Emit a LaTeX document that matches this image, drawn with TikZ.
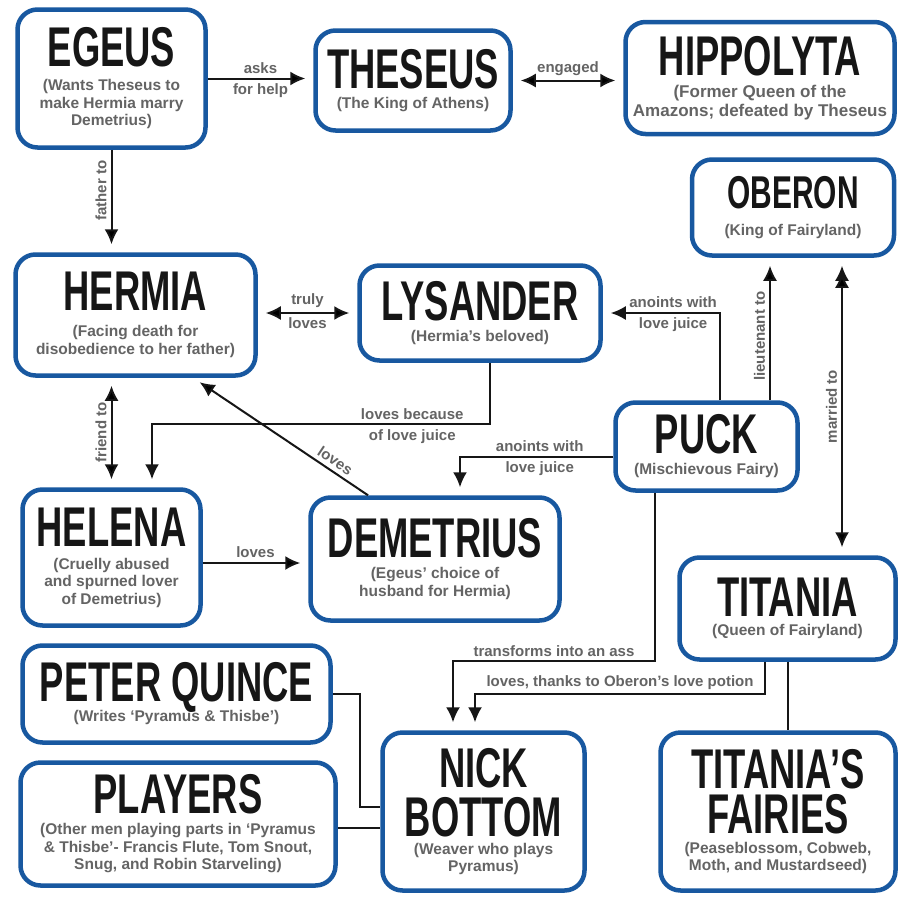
\documentclass[tikz,border=0pt]{standalone}
\usepackage{fontspec}
\setmainfont{Liberation Sans}
\newfontfamily\namefont[FakeStretch=0.65]{Liberation Sans}
\usetikzlibrary{arrows.meta}

\definecolor{boxblue}{RGB}{24,88,160}
\definecolor{subgray}{RGB}{100,100,100}
\definecolor{ink}{RGB}{22,22,22}

% big condensed name on top of each box
\newcommand\who[2][56]{{\namefont\bfseries\fontsize{#1}{#1}\selectfont\color{ink}#2}}
\newcommand\subfont{\bfseries\fontsize{15.5}{17.5}\selectfont\lineskiplimit=-100pt\relax}
\newcommand\bigsubfont{\bfseries\fontsize{17}{18.5}\selectfont\lineskiplimit=-100pt\relax}

\tikzset{
  person/.style={draw=boxblue, line width=4.5pt, rounded corners=20pt, fill=white,
    align=center, inner sep=0pt, text=subgray, font=\subfont},
  rel/.style={->, draw=ink, line width=2pt, shorten >=8pt},
  link/.style={draw=ink, line width=2pt},
  lbl/.style={font=\bfseries\fontsize{15}{17}\selectfont, text=subgray, inner sep=4pt},
}

\begin{document}
\begin{tikzpicture}[x=1pt, y=-1pt, >={Latex[length=15pt,width=14pt]}]
\useasboundingbox (0,0) rectangle (899,900);
\fill[white] (0,0) rectangle (899,900);

\node[person, minimum width=188pt, minimum height=138pt] (egeus) at (111.5,78.5)
  {\who{EGEUS}\\[6.5pt](Wants Theseus to\\make Hermia marry\\Demetrius)};
\node[person, minimum width=195pt, minimum height=100pt] (theseus) at (413,80.5)
  {\who{THESEUS}\\[2.5pt](The King of Athens)};
\node[person, font=\bigsubfont, minimum width=269pt, minimum height=112pt] (hippolyta) at (760,78)
  {\who{HIPPOLYTA}\\[4pt](Former Queen of the\\Amazons; defeated by Theseus};
\node[person, minimum width=202pt, minimum height=96pt] (oberon) at (793,207.5)
  {\who[46]{OBERON}\\[9.5pt](King of Fairyland)};
\node[person, minimum width=240pt, minimum height=121pt] (hermia) at (135.5,315)
  {\who{HERMIA}\\[8.5pt](Facing death for\\disobedience to her father)};
\node[person, minimum width=241pt, minimum height=95pt] (lysander) at (480,313)
  {\who{LYSANDER}\\[3.5pt](Hermia’s beloved)};
\node[person, minimum width=182pt, minimum height=88pt] (puck) at (706.5,446.5)
  {\who{PUCK}\\[3.5pt](Mischievous Fairy)};
\node[person, minimum width=178pt, minimum height=136pt] (helena) at (111.5,557.5)
  {\who{HELENA}\\[5.5pt](Cruelly abused\\and spurned lover\\of Demetrius)};
\node[person, minimum width=249pt, minimum height=123pt] (demetrius) at (435,559)
  {\who{DEMETRIUS}\\[3.5pt](Egeus’ choice of\\husband for Hermia)};
\node[person, minimum width=216pt, minimum height=102pt] (titania) at (787.5,608.5)
  {\who{TITANIA}\\[1.5pt](Queen of Fairyland)};
\node[person, minimum width=308pt, minimum height=97pt] (quince) at (176.5,694)
  {\who{PETER QUINCE}\\[2.5pt](Writes ‘Pyramus \& Thisbe’)};
\node[person, minimum width=315pt, minimum height=123pt] (players) at (178,824)
  {\who{PLAYERS}\\[3.5pt](Other men playing parts in ‘Pyramus\\\& Thisbe’- Francis Flute, Tom Snout,\\Snug, and Robin Starveling)};
\node[person, minimum width=202pt, minimum height=158pt] (bottom) at (483.5,811.5)
  {\who{NICK}\\[31.5pt]\who{BOTTOM}\\[0.5pt](Weaver who plays\\Pyramus)};
\node[person, minimum width=235pt, minimum height=158pt] (fairies) at (778,811.5)
  {\who{TITANIA’S}\\[27.5pt]\who{FAIRIES}\\[2.5pt](Peaseblossom, Cobweb,\\Moth, and Mustardseed)};

% straight relations
\path[rel]
  (egeus.east) edge node[lbl, above] {asks} node[lbl, below] {for help} (egeus.east -| theseus.west)
  (theseus.east) edge[<->, shorten <=8pt] node[lbl, above] {engaged} (theseus.east -| hippolyta.west)
  (egeus.south) edge node[lbl, pos=0.4, rotate=90, anchor=south] {father to} (egeus.south |- hermia.north)
  (lysander.west -| hermia.east) edge[<->, shorten <=8pt] node[lbl, above] {truly} node[lbl, below] {loves} (lysander.west)
  (hermia.south -| helena.north) edge[<->, shorten <=8pt] node[lbl, rotate=90, anchor=south] {friend to} (helena.north)
  ([xshift=-67pt]demetrius.north) edge node[lbl, pos=0.22, sloped, above] {loves} ([xshift=57.5pt]hermia.south)
  ([yshift=-5.5pt]helena.east) edge node[lbl, above] {loves} ([yshift=-5.5pt]helena.east -| demetrius.west)
  ([xshift=63.5pt]puck.north) edge node[lbl, pos=0.45, rotate=90, anchor=south] {lieutenant to} ([xshift=63.5pt]puck.north |- oberon.south)
  ([xshift=49pt]oberon.south) edge[<->, shorten <=15pt] node[lbl, rotate=90, anchor=south] {married to} ([xshift=49pt]oberon.south |- titania.north);

% bent relations
\draw[rel] ([xshift=10pt]lysander.south) -- ++(0,61.5)
  -| node[lbl, pos=0.115, above] {loves because} node[lbl, pos=0.115, below] {of love juice} ([xshift=40.5pt]helena.north);
\draw[rel] ([xshift=13.5pt]puck.north)
  |- node[lbl, pos=0.7, above] {anoints with} node[lbl, pos=0.7, below] {love juice} (lysander.east);
\draw[rel] ([yshift=-10.5pt]puck.west)
  -| node[lbl, pos=0.24, above] {anoints with} node[lbl, pos=0.24, below] {love juice} ([xshift=25pt]demetrius.north);
\draw[rel] ([xshift=-51.5pt]puck.south) -- ++(0,168.5)
  -| node[lbl, pos=0.25, above] {transforms into an ass} ([xshift=-30.5pt]bottom.north);
\draw[rel] ([xshift=-22.5pt]titania.south) -- ++(0,32.5)
  -| node[lbl, pos=0.25, above] {loves, thanks to Oberon’s love potion} ([xshift=-8.5pt]bottom.north);

% plain links
\draw[link] (titania.south) -- (titania.south |- fairies.north);
\draw[link] (quince.east) -- ++(27.5,0) |- ([yshift=4.5pt]bottom.west);
\draw[link] ([yshift=-4pt]players.east) -- ([yshift=-4pt]players.east -| bottom.west);
\end{tikzpicture}
\end{document}
